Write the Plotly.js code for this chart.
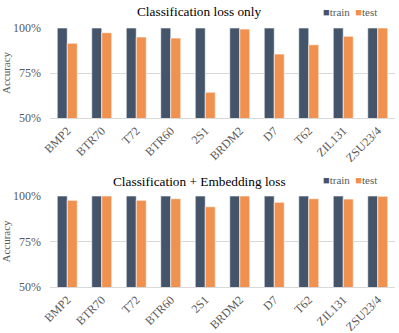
<!DOCTYPE html>
<html>
<head>
<meta charset="utf-8">
<script src="https://cdn.plot.ly/plotly-3.0.1.min.js"></script>
<style>
  html, body { margin: 0; padding: 0; background: #fff; }
  #plot { width: 399px; height: 333px; }
</style>
</head>
<body>
<div id="plot"></div>
<script>
// vehicle classes
let classes = ["BMP2", "BTR70", "T72", "BTR60", "2S1", "BRDM2", "D7", "T62", "ZIL131", "ZSU23/4"];

// classification loss only
let trainCls = [100, 100, 100, 100, 100, 100, 100, 100, 100, 100];
let testCls = [91.5, 97.4, 95.0, 94.4, 64.3, 99.4, 85.5, 90.7, 95.4, 100];

// classification + embedding loss
let trainEmb = [100, 100, 100, 100, 100, 100, 100, 100, 100, 100];
let testEmb = [97.6, 100, 97.6, 98.5, 94.1, 100, 96.5, 98.5, 98.3, 99.8];

let yTicks = [50, 75, 100];
let yTickText = ["50%", "75%", "100%"];

let dark = '#44546A';
let orange = '#F0914F';
let serif = "'Liberation Serif', serif";
let grey = '#595959';

function bars(y, name, color, xa, ya) {
  return {
    x: classes,
    y: y,
    base: 0,
    name: name,
    type: 'bar',
    xaxis: xa,
    yaxis: ya,
    showlegend: false,
    marker: {color: color, line: {color: '#ffffff', width: 0.6}},
    hoverinfo: 'skip'
  };
}

let data = [
  bars(trainCls, 'train', dark, 'x', 'y'),
  bars(testCls, 'test', orange, 'x', 'y'),
  bars(trainEmb, 'train', dark, 'x2', 'y2'),
  bars(testEmb, 'test', orange, 'x2', 'y2')
];

let xaxisStyle = {
  tickangle: -45,
  tickfont: {family: serif, size: 12, color: grey},
  showgrid: false,
  showline: true,
  linecolor: '#d9d9d9',
  linewidth: 1,
  ticks: '',
  range: [-0.5, 9.5],
  automargin: false
};

let yaxisStyle = {
  range: [50, 100],
  tickvals: yTicks,
  ticktext: yTickText,
  tickfont: {family: serif, size: 12, color: grey},
  gridcolor: '#d9d9d9',
  gridwidth: 1,
  zeroline: false,
  showline: false,
  ticks: '',
  ticklabelstandoff: 8,
  title: {text: 'Accuracy', font: {family: serif, size: 11, color: grey}, standoff: 4},
  automargin: false
};

// small legend as coloured squares + text
let legendText = "<span style='color:" + dark + "'>■</span>train&nbsp;&nbsp;" +
                 "<span style='color:" + orange + "'>■</span>test";

// paper x is measured over the plot area (l=50, width 345)
function px(x) { return (x - 50) / 345; }

function title(text, ypx) {
  return {text: text, xref: 'paper', yref: 'paper', x: px(199), y: 1 - ypx / 333,
          xanchor: 'center', yanchor: 'middle', showarrow: false,
          font: {family: serif, size: 13.3, color: '#000000'}};
}

function legend(ypx) {
  return {text: legendText, xref: 'paper', yref: 'paper', x: px(321), y: 1 - ypx / 333,
          xanchor: 'left', yanchor: 'middle', showarrow: false,
          font: {family: serif, size: 11, color: grey}};
}

let layout = {
  width: 399,
  height: 333,
  margin: {l: 50, r: 4, t: 0, b: 0},
  paper_bgcolor: '#ffffff',
  plot_bgcolor: '#ffffff',
  barmode: 'group',
  bargap: 0.42,
  bargroupgap: 0,
  font: {family: serif},
  xaxis: Object.assign({}, xaxisStyle, {anchor: 'y', domain: [0, 1]}),
  yaxis: Object.assign({}, yaxisStyle, {anchor: 'x', domain: [1 - 118 / 333, 1 - 28 / 333]}),
  xaxis2: Object.assign({}, xaxisStyle, {anchor: 'y2', domain: [0, 1]}),
  yaxis2: Object.assign({}, yaxisStyle, {anchor: 'x2', domain: [1 - 287 / 333, 1 - 196 / 333]}),
  annotations: [
    title('Classification loss only', 12),
    title('Classification + Embedding loss', 181),
    legend(12),
    legend(180)
  ]
};

Plotly.newPlot('plot', data, layout, {displayModeBar: false, staticPlot: true});
</script>
</body>
</html>
